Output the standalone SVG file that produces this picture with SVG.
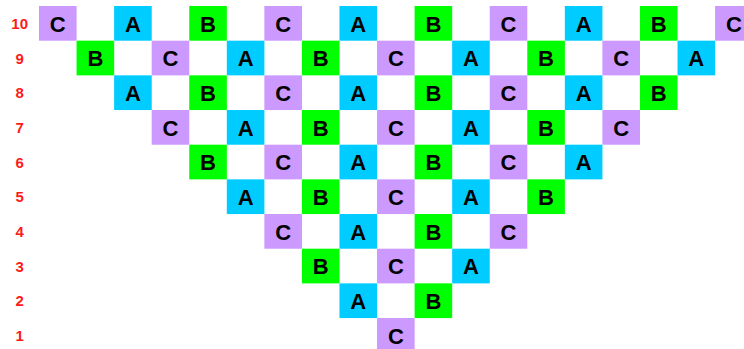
<svg xmlns="http://www.w3.org/2000/svg" width="744" height="349" viewBox="0 0 744 349">
<style>
rect{stroke:none}
.A rect{fill:#00CCFF}
.B rect{fill:#00FF00}
.C rect{fill:#CC99FF}
.n text{font-family:"Liberation Sans",Arial,sans-serif;font-weight:bold;font-size:22px;fill:#000;text-anchor:middle}
.lbl{font-family:"Liberation Sans",Arial,sans-serif;font-weight:bold;font-size:15px;fill:#FF1A1A;text-anchor:middle}
</style>
<rect width="744" height="349" fill="#fff"/>
<g id="labels">
<text class="lbl" x="19.7" y="29">10</text>
<text class="lbl" x="19.7" y="63.7">9</text>
<text class="lbl" x="19.7" y="98.3">8</text>
<text class="lbl" x="19.7" y="133">7</text>
<text class="lbl" x="19.7" y="167.7">6</text>
<text class="lbl" x="19.7" y="202.4">5</text>
<text class="lbl" x="19.7" y="237">4</text>
<text class="lbl" x="19.7" y="271.7">3</text>
<text class="lbl" x="19.7" y="306.4">2</text>
<text class="lbl" x="19.7" y="341">1</text>
</g>
<g id="nodes">
<!-- row 10 -->
<g id="r10c0" class="n C" transform="translate(39,6)"><rect width="37.6" height="34.7"/><text x="18.8" y="25.6">C</text></g>
<g id="r10c2" class="n A" transform="translate(114.12,6)"><rect width="37.6" height="34.7"/><text x="18.8" y="25.6">A</text></g>
<g id="r10c4" class="n B" transform="translate(189.24,6)"><rect width="37.6" height="34.7"/><text x="18.8" y="25.6">B</text></g>
<g id="r10c6" class="n C" transform="translate(264.36,6)"><rect width="37.6" height="34.7"/><text x="18.8" y="25.6">C</text></g>
<g id="r10c8" class="n A" transform="translate(339.48,6)"><rect width="37.6" height="34.7"/><text x="18.8" y="25.6">A</text></g>
<g id="r10c10" class="n B" transform="translate(414.6,6)"><rect width="37.6" height="34.7"/><text x="18.8" y="25.6">B</text></g>
<g id="r10c12" class="n C" transform="translate(489.72,6)"><rect width="37.6" height="34.7"/><text x="18.8" y="25.6">C</text></g>
<g id="r10c14" class="n A" transform="translate(564.84,6)"><rect width="37.6" height="34.7"/><text x="18.8" y="25.6">A</text></g>
<g id="r10c16" class="n B" transform="translate(639.96,6)"><rect width="37.6" height="34.7"/><text x="18.8" y="25.6">B</text></g>
<g id="r10c18" class="n C" transform="translate(715.08,6)"><rect width="37.6" height="34.7"/><text x="18.8" y="25.6">C</text></g>
<!-- row 9 -->
<g id="r9c1" class="n B" transform="translate(76.56,40.67)"><rect width="37.6" height="34.7"/><text x="18.8" y="25.6">B</text></g>
<g id="r9c3" class="n C" transform="translate(151.68,40.67)"><rect width="37.6" height="34.7"/><text x="18.8" y="25.6">C</text></g>
<g id="r9c5" class="n A" transform="translate(226.8,40.67)"><rect width="37.6" height="34.7"/><text x="18.8" y="25.6">A</text></g>
<g id="r9c7" class="n B" transform="translate(301.92,40.67)"><rect width="37.6" height="34.7"/><text x="18.8" y="25.6">B</text></g>
<g id="r9c9" class="n C" transform="translate(377.04,40.67)"><rect width="37.6" height="34.7"/><text x="18.8" y="25.6">C</text></g>
<g id="r9c11" class="n A" transform="translate(452.16,40.67)"><rect width="37.6" height="34.7"/><text x="18.8" y="25.6">A</text></g>
<g id="r9c13" class="n B" transform="translate(527.28,40.67)"><rect width="37.6" height="34.7"/><text x="18.8" y="25.6">B</text></g>
<g id="r9c15" class="n C" transform="translate(602.4,40.67)"><rect width="37.6" height="34.7"/><text x="18.8" y="25.6">C</text></g>
<g id="r9c17" class="n A" transform="translate(677.52,40.67)"><rect width="37.6" height="34.7"/><text x="18.8" y="25.6">A</text></g>
<!-- row 8 -->
<g id="r8c2" class="n A" transform="translate(114.12,75.34)"><rect width="37.6" height="34.7"/><text x="18.8" y="25.6">A</text></g>
<g id="r8c4" class="n B" transform="translate(189.24,75.34)"><rect width="37.6" height="34.7"/><text x="18.8" y="25.6">B</text></g>
<g id="r8c6" class="n C" transform="translate(264.36,75.34)"><rect width="37.6" height="34.7"/><text x="18.8" y="25.6">C</text></g>
<g id="r8c8" class="n A" transform="translate(339.48,75.34)"><rect width="37.6" height="34.7"/><text x="18.8" y="25.6">A</text></g>
<g id="r8c10" class="n B" transform="translate(414.6,75.34)"><rect width="37.6" height="34.7"/><text x="18.8" y="25.6">B</text></g>
<g id="r8c12" class="n C" transform="translate(489.72,75.34)"><rect width="37.6" height="34.7"/><text x="18.8" y="25.6">C</text></g>
<g id="r8c14" class="n A" transform="translate(564.84,75.34)"><rect width="37.6" height="34.7"/><text x="18.8" y="25.6">A</text></g>
<g id="r8c16" class="n B" transform="translate(639.96,75.34)"><rect width="37.6" height="34.7"/><text x="18.8" y="25.6">B</text></g>
<!-- row 7 -->
<g id="r7c3" class="n C" transform="translate(151.68,110.01)"><rect width="37.6" height="34.7"/><text x="18.8" y="25.6">C</text></g>
<g id="r7c5" class="n A" transform="translate(226.8,110.01)"><rect width="37.6" height="34.7"/><text x="18.8" y="25.6">A</text></g>
<g id="r7c7" class="n B" transform="translate(301.92,110.01)"><rect width="37.6" height="34.7"/><text x="18.8" y="25.6">B</text></g>
<g id="r7c9" class="n C" transform="translate(377.04,110.01)"><rect width="37.6" height="34.7"/><text x="18.8" y="25.6">C</text></g>
<g id="r7c11" class="n A" transform="translate(452.16,110.01)"><rect width="37.6" height="34.7"/><text x="18.8" y="25.6">A</text></g>
<g id="r7c13" class="n B" transform="translate(527.28,110.01)"><rect width="37.6" height="34.7"/><text x="18.8" y="25.6">B</text></g>
<g id="r7c15" class="n C" transform="translate(602.4,110.01)"><rect width="37.6" height="34.7"/><text x="18.8" y="25.6">C</text></g>
<!-- row 6 -->
<g id="r6c4" class="n B" transform="translate(189.24,144.68)"><rect width="37.6" height="34.7"/><text x="18.8" y="25.6">B</text></g>
<g id="r6c6" class="n C" transform="translate(264.36,144.68)"><rect width="37.6" height="34.7"/><text x="18.8" y="25.6">C</text></g>
<g id="r6c8" class="n A" transform="translate(339.48,144.68)"><rect width="37.6" height="34.7"/><text x="18.8" y="25.6">A</text></g>
<g id="r6c10" class="n B" transform="translate(414.6,144.68)"><rect width="37.6" height="34.7"/><text x="18.8" y="25.6">B</text></g>
<g id="r6c12" class="n C" transform="translate(489.72,144.68)"><rect width="37.6" height="34.7"/><text x="18.8" y="25.6">C</text></g>
<g id="r6c14" class="n A" transform="translate(564.84,144.68)"><rect width="37.6" height="34.7"/><text x="18.8" y="25.6">A</text></g>
<!-- row 5 -->
<g id="r5c5" class="n A" transform="translate(226.8,179.35)"><rect width="37.6" height="34.7"/><text x="18.8" y="25.6">A</text></g>
<g id="r5c7" class="n B" transform="translate(301.92,179.35)"><rect width="37.6" height="34.7"/><text x="18.8" y="25.6">B</text></g>
<g id="r5c9" class="n C" transform="translate(377.04,179.35)"><rect width="37.6" height="34.7"/><text x="18.8" y="25.6">C</text></g>
<g id="r5c11" class="n A" transform="translate(452.16,179.35)"><rect width="37.6" height="34.7"/><text x="18.8" y="25.6">A</text></g>
<g id="r5c13" class="n B" transform="translate(527.28,179.35)"><rect width="37.6" height="34.7"/><text x="18.8" y="25.6">B</text></g>
<!-- row 4 -->
<g id="r4c6" class="n C" transform="translate(264.36,214.02)"><rect width="37.6" height="34.7"/><text x="18.8" y="25.6">C</text></g>
<g id="r4c8" class="n A" transform="translate(339.48,214.02)"><rect width="37.6" height="34.7"/><text x="18.8" y="25.6">A</text></g>
<g id="r4c10" class="n B" transform="translate(414.6,214.02)"><rect width="37.6" height="34.7"/><text x="18.8" y="25.6">B</text></g>
<g id="r4c12" class="n C" transform="translate(489.72,214.02)"><rect width="37.6" height="34.7"/><text x="18.8" y="25.6">C</text></g>
<!-- row 3 -->
<g id="r3c7" class="n B" transform="translate(301.92,248.69)"><rect width="37.6" height="34.7"/><text x="18.8" y="25.6">B</text></g>
<g id="r3c9" class="n C" transform="translate(377.04,248.69)"><rect width="37.6" height="34.7"/><text x="18.8" y="25.6">C</text></g>
<g id="r3c11" class="n A" transform="translate(452.16,248.69)"><rect width="37.6" height="34.7"/><text x="18.8" y="25.6">A</text></g>
<!-- row 2 -->
<g id="r2c8" class="n A" transform="translate(339.48,283.36)"><rect width="37.6" height="34.7"/><text x="18.8" y="25.6">A</text></g>
<g id="r2c10" class="n B" transform="translate(414.6,283.36)"><rect width="37.6" height="34.7"/><text x="18.8" y="25.6">B</text></g>
<!-- row 1 -->
<g id="r1c9" class="n C" transform="translate(377.04,318.03)"><rect width="37.6" height="34.7"/><text x="18.8" y="25.6">C</text></g>
</g>
<g id="connectors"/>
</svg>
